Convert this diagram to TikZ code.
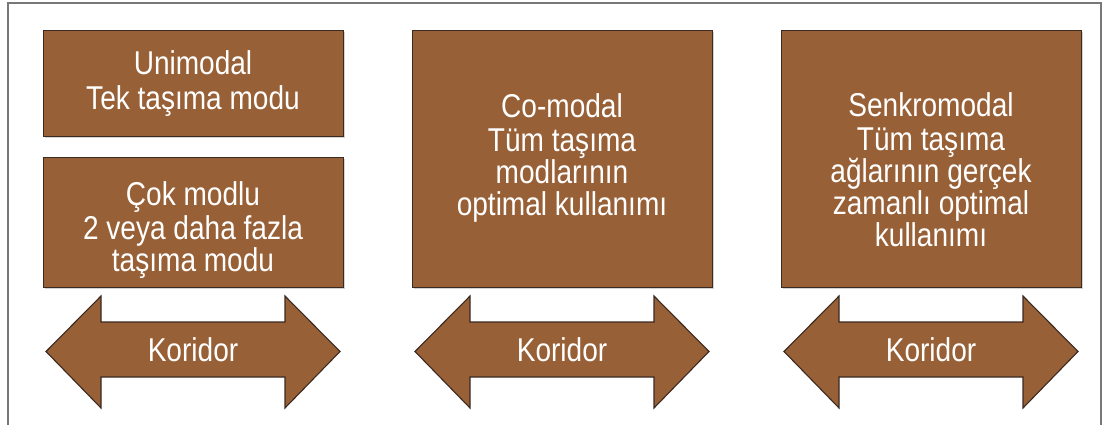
\documentclass[tikz,border=0pt]{standalone}
\usepackage{fontspec}
\setmainfont{Liberation Sans}[FakeStretch=0.85]
\usetikzlibrary{shadows}
\definecolor{corridorbrown}{RGB}{152,96,54}
\definecolor{edgebrown}{RGB}{58,42,34}
\definecolor{framegray}{RGB}{120,120,120}
\tikzset{
  modebox/.style={draw=edgebrown, line width=1.2pt, fill=corridorbrown,
    drop shadow={shadow xshift=1.2pt, shadow yshift=-1.2pt, opacity=0.35, fill=gray},
    anchor=north west, inner sep=0pt},
  corridor/.style={draw=edgebrown, line width=1.1pt, fill=corridorbrown, line join=miter},
  boxtext/.style={text=white, align=center, anchor=north, inner sep=0pt,
    font=\fontsize{33}{32}\selectfont},
  frameline/.style={draw=framegray, line width=1.6pt}
}
\begin{document}
\begin{tikzpicture}[x=1pt, y=-1pt]
\useasboundingbox (0,0) rectangle (1105,425);
% outer frame (open at the bottom)
\draw[frameline] (8,426) -- (8,3) -- (1101,3) -- (1101,426);

% mode boxes
\node[modebox, minimum width=300pt, minimum height=106pt] (unibox) at (43,30) {};
\node[modebox, minimum width=300pt, minimum height=130pt] (multibox) at (43,157) {};
\node[modebox, minimum width=300pt, minimum height=257pt] (cobox) at (412,30) {};
\node[modebox, minimum width=300pt, minimum height=257pt] (synbox) at (781,30) {};

\node[boxtext] (unitext) at (193,50) {Unimodal\\[3pt]Tek taşıma modu};
\node[boxtext] (multitext) at (193,181) {Çok modlu\\[2pt]2 veya daha fazla\\taşıma modu};
\node[boxtext] (cotext) at (562,93) {Co-modal\\[2pt]Tüm taşıma\\modlarının\\optimal kullanımı};
\node[boxtext] (syntext) at (931,92) {Senkromodal\\[2pt]Tüm taşıma\\ağlarının gerçek\\zamanlı optimal\\kullanımı};

% double-headed corridor arrows
\foreach \xl/\nm in {43/one, 412/two, 781/three}{
  \begin{scope}[shift={(\xl,0)}]
    \draw[corridor] (3,351.5) -- (58,296) -- (58,322) -- (242,322) -- (242,296)
      -- (297,351.5) -- (242,408) -- (242,377) -- (58,377) -- (58,408) -- cycle;
    \node[boxtext] (koridor\nm) at (150,337) {Koridor};
  \end{scope}
}
\end{tikzpicture}
\end{document}
